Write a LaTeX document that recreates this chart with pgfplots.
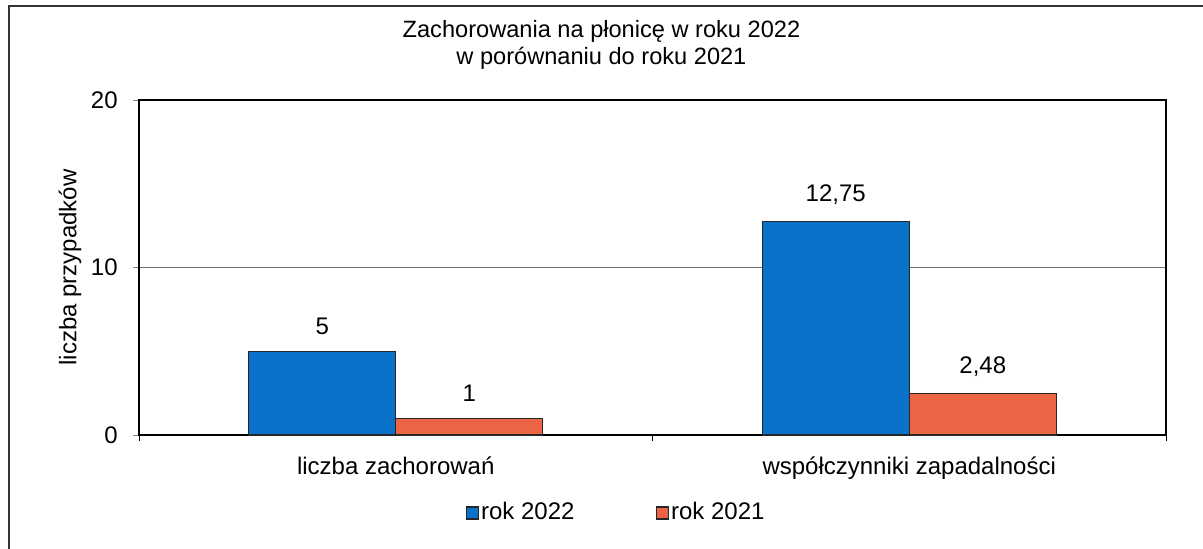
\documentclass[border=0pt]{standalone}
\usepackage{fontspec}
\setmainfont{Liberation Sans}
\usepackage{pgfplots}
\pgfplotsset{compat=1.18}
\definecolor{rok22}{RGB}{10,114,200}
\definecolor{rok21}{RGB}{236,100,68}
\begin{document}
\fontsize{12pt}{14pt}\selectfont
\begin{tikzpicture}
\useasboundingbox (0,0) rectangle (601.5pt,274pt);
% ramka wykresu (prawa i dolna krawedz poza kadrem)
\draw[line width=0.8pt, black!80] (4.5pt,-5pt) -- (4.5pt,271pt) -- (610pt,271pt);
\begin{axis}[
  at={(69.5pt,56.5pt)}, anchor=south west,
  scale only axis, width=513.5pt, height=167.5pt,
  ybar=0pt, bar width=73.5pt,
  xmin=-0.5, xmax=1.5, ymin=0, ymax=20,
  xtick={0,1},
  xticklabels={liczba zachorowań, współczynniki zapadalności},
  major x tick style={draw=none},
  extra x ticks={-0.5,0.5,1.5}, extra x tick labels={},
  extra x tick style={major x tick style={draw=black}, grid=none},
  ytick={0,10,20},
  ymajorgrids, grid style={black!55, line width=0.6pt},
  tick align=outside, tick pos=left, major tick length=3pt,
  axis line style={line width=1pt},
  /pgf/number format/assume math mode=true,
  /pgf/number format/use comma,
  yticklabel style={xshift=-3.5pt},
  xticklabel style={yshift=-3.5pt},
  ylabel={liczba przypadków},
  every axis y label/.style={at={(axis description cs:-0.0672,0.5)}, rotate=90, anchor=center},
  title={Zachorowania na płonicę w roku 2022\\w porównaniu do roku 2021},
  title style={at={(axis description cs:0.4503,1.128)}, anchor=center, align=center,
    font=\fontsize{11.8pt}{13.5pt}\selectfont},
  nodes near coords,
  every node near coord/.append style={black, yshift=4pt},
  legend columns=2,
  legend style={at={(axis description cs:0.4645,-0.233)}, anchor=center, draw=none,
    /tikz/every even column/.append style={column sep=39.5pt},
    nodes={inner sep=1pt}},
  legend image code/.code={\draw[#1, draw=black!85, line width=0.8pt] (0pt,-3pt) rectangle (6pt,3pt);},
]
\addplot[fill=rok22, draw=black!85, line width=0.7pt] coordinates {(0,5) (1,12.75)};
\addlegendentry{rok 2022}
\addplot[fill=rok21, draw=black!85, line width=0.7pt] coordinates {(0,1) (1,2.48)};
\addlegendentry{rok 2021}
\end{axis}
\end{tikzpicture}
\end{document}
